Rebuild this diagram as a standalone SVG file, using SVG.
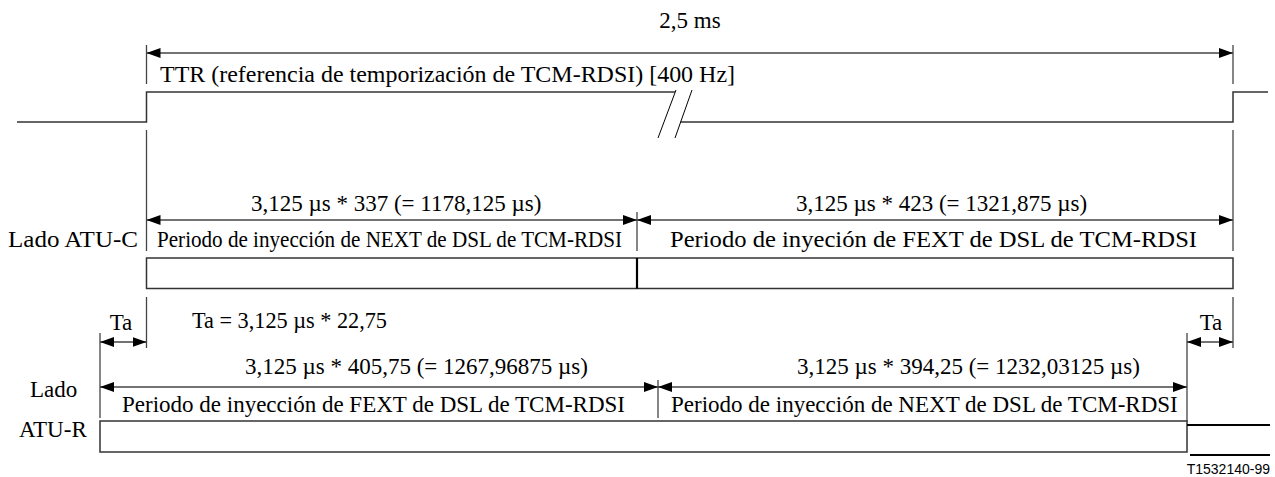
<svg xmlns="http://www.w3.org/2000/svg" width="1275" height="477" viewBox="0 0 1275 477">
<style>
.t{font-family:"Liberation Serif","Times New Roman",serif;font-size:23px;fill:#000}
.s{font-family:"Liberation Sans",Arial,sans-serif;font-size:14px;fill:#000}
.ln{stroke:#444;stroke-width:1.3;fill:none}
.sig{stroke:#333;stroke-width:1.5;fill:none}
.box{stroke:#333;stroke-width:1.5;fill:#fff}
.dim{stroke:#444;stroke-width:1.3;fill:none;marker-start:url(#ah);marker-end:url(#ah)}
.thk{stroke:#000;stroke-width:2.2;fill:none}
.sl{stroke:#000;stroke-width:1;fill:none}
</style>
<defs>
<marker id="ah" markerUnits="userSpaceOnUse" markerWidth="15" markerHeight="11" refX="14" refY="5" orient="auto-start-reverse">
<path d="M0,0 L14,5 L0,10 Z" fill="#000"/>
</marker>
</defs>

<g id="connectors">
<line class="dim" x1="146.5" y1="53" x2="1233" y2="53"/>
<line class="ln" x1="146.5" y1="45" x2="146.5" y2="84"/>
<line class="ln" x1="1233" y1="45" x2="1233" y2="84"/>
<line class="ln" x1="146.5" y1="130" x2="146.5" y2="251"/>
<line class="ln" x1="1233" y1="130" x2="1233" y2="251"/>
<line class="ln" x1="637" y1="212" x2="637" y2="251"/>
<line class="dim" x1="146.5" y1="220" x2="637" y2="220"/>
<line class="dim" x1="637" y1="220" x2="1233" y2="220"/>
<line class="ln" x1="146.5" y1="297" x2="146.5" y2="348"/>
<line class="ln" x1="1233" y1="297" x2="1233" y2="348"/>
<line class="ln" x1="100" y1="333" x2="100" y2="418"/>
<line class="ln" x1="1187" y1="333" x2="1187" y2="421"/>
<line class="dim" x1="100" y1="342" x2="146.5" y2="342"/>
<line class="dim" x1="1187" y1="342" x2="1233" y2="342"/>
<line class="ln" x1="658" y1="380" x2="658" y2="418"/>
<line class="dim" x1="100" y1="387" x2="658" y2="387"/>
<line class="dim" x1="658" y1="387" x2="1187" y2="387"/>
</g>

<g id="ttr-signal">
<path class="sig" d="M17,122 H146.5 V92 H675"/>
<path class="sig" d="M680.5,122 H1233 V92 H1268"/>
<line class="sl" x1="676" y1="90" x2="658" y2="138"/>
<line class="sl" x1="692" y1="90" x2="675" y2="138"/>
</g>

<g id="labels-top">
<text class="t" x="690" y="28" text-anchor="middle">2,5 ms</text>
<text class="t" x="160" y="82" textLength="575" lengthAdjust="spacingAndGlyphs">TTR (referencia de temporización de TCM-RDSI) [400 Hz]</text>
</g>

<g id="atu-c">
<text class="t" x="251" y="211">3,125 µs * 337 (= 1178,125 µs)</text>
<text class="t" x="796" y="211">3,125 µs * 423 (= 1321,875 µs)</text>
<text class="t" x="8" y="247" textLength="130" lengthAdjust="spacingAndGlyphs">Lado ATU-C</text>
<text class="t" x="157" y="247" textLength="465" lengthAdjust="spacingAndGlyphs">Periodo de inyección de NEXT de DSL de TCM-RDSI</text>
<text class="t" x="670" y="247" textLength="527" lengthAdjust="spacingAndGlyphs">Periodo de inyeción de FEXT de DSL de TCM-RDSI</text>
<rect class="box" x="146.5" y="258" width="1086.5" height="30.5"/>
<line class="thk" x1="637" y1="258" x2="637" y2="288.5"/>
</g>

<g id="ta">
<text class="t" x="121" y="330" text-anchor="middle">Ta</text>
<text class="t" x="192" y="328" textLength="195" lengthAdjust="spacingAndGlyphs">Ta = 3,125 µs * 22,75</text>
<text class="t" x="1211" y="330" text-anchor="middle">Ta</text>
</g>

<g id="atu-r">
<text class="t" x="245" y="374">3,125 µs * 405,75 (= 1267,96875 µs)</text>
<text class="t" x="797" y="374">3,125 µs * 394,25 (= 1232,03125 µs)</text>
<text class="t" x="30" y="397">Lado</text>
<text class="t" x="19" y="437">ATU-R</text>
<text class="t" x="122" y="412">Periodo de inyección de FEXT de DSL de TCM-RDSI</text>
<text class="t" x="671" y="412">Periodo de inyección de NEXT de DSL de TCM-RDSI</text>
<rect class="box" x="100" y="421" width="1087" height="31"/>
<line class="thk" x1="1187" y1="425" x2="1270" y2="425"/>
<line class="thk" x1="1190" y1="455" x2="1270" y2="455"/>
</g>

<g id="code">
<text class="s" x="1270" y="474" text-anchor="end">T1532140-99</text>
</g>
</svg>
